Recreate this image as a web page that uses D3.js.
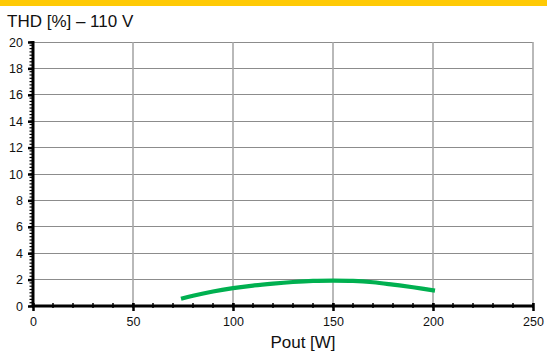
<!DOCTYPE html>
<html><head><meta charset="utf-8">
<script src="https://cdn.jsdelivr.net/npm/d3@7"></script>
<style>body{margin:0;background:#fff}svg{display:block}text{font-family:Arial,"Liberation Sans",sans-serif}</style>
</head><body>
<svg id="c" width="547" height="352"></svg>
<script>
const titleText = "THD [%] \u2013 110 V";
const xTitle = "Pout [W]";
const pout = [74, 80, 90, 100, 110, 120, 130, 140, 150, 160, 170, 180, 190, 201];
const thd  = [0.55, 0.78, 1.1, 1.35, 1.55, 1.7, 1.82, 1.9, 1.92, 1.9, 1.8, 1.62, 1.42, 1.17];
const xTicks = [0, 50, 100, 150, 200, 250];
const yTicks = [0, 2, 4, 6, 8, 10, 12, 14, 16, 18, 20];

const svg = d3.select("#c");
const x = d3.scaleLinear().domain([0, 250]).range([33, 533]);
const y = d3.scaleLinear().domain([0, 20]).range([306, 42]);

// top yellow bar
svg.append("rect").attr("x",0).attr("y",0).attr("width",547).attr("height",6).attr("fill","#FFCA05");

svg.append("text").attr("x",7).attr("y",27).attr("font-size",17).attr("fill","#111").text(titleText);

// gridlines
svg.append("g").selectAll("line").data(yTicks.filter(d=>d>0)).join("line")
  .attr("x1",x(0)).attr("x2",x(250)).attr("y1",d=>y(d)).attr("y2",d=>y(d))
  .attr("stroke","#8c8c8c").attr("stroke-width",1).attr("shape-rendering","crispEdges");
svg.append("g").selectAll("line").data(xTicks.filter(d=>d>0)).join("line")
  .attr("x1",d=>x(d)).attr("x2",d=>x(d)).attr("y1",y(0)).attr("y2",y(20))
  .attr("stroke","#a8a8a8").attr("stroke-width",1.6);

// minor ticks
const yMinor = d3.range(0, 20.001, 0.25);
svg.append("g").selectAll("line").data(yMinor).join("line")
  .attr("x1",x(0)-3.5).attr("x2",x(0)).attr("y1",d=>y(d)).attr("y2",d=>y(d))
  .attr("stroke","#000").attr("stroke-width",1.2);
const xMinor = d3.range(0, 250.001, 10);
svg.append("g").selectAll("line").data(xMinor).join("line")
  .attr("x1",d=>x(d)).attr("x2",d=>x(d)).attr("y1",y(0)-3).attr("y2",y(0)+2)
  .attr("stroke","#000").attr("stroke-width",1.5);

// axes
const yAxis = svg.append("g").attr("transform",`translate(${x(0)},0)`)
  .call(d3.axisLeft(y).tickValues(yTicks).tickSize(5).tickPadding(5).tickFormat(d3.format("d")));
yAxis.select(".domain").attr("stroke","#000").attr("stroke-width",3).attr("d",`M0,${y(20)-1}V${y(0)+1}`);
yAxis.selectAll(".tick line").attr("stroke","#000").attr("stroke-width",2.5);
yAxis.selectAll(".tick text").attr("font-size",12.5).attr("fill","#111").attr("font-family","Arial, 'Liberation Sans', sans-serif");

const xAxis = svg.append("g").attr("transform",`translate(0,${y(0)})`)
  .call(d3.axisBottom(x).tickValues(xTicks).tickSize(5).tickPadding(6).tickFormat(d3.format("d")));
xAxis.select(".domain").attr("stroke","#000").attr("stroke-width",3).attr("d",`M${x(0)-1},0H${x(250)+1}`);
xAxis.selectAll(".tick line").attr("stroke","#000").attr("stroke-width",2.5).attr("y1",-3);
xAxis.selectAll(".tick text").attr("font-size",12.5).attr("fill","#111").attr("font-family","Arial, 'Liberation Sans', sans-serif");

svg.append("text").attr("x",303).attr("y",348).attr("text-anchor","middle").attr("font-size",17).attr("fill","#111").text(xTitle);

// curve
const line = d3.line().x((d,i)=>x(pout[i])).y(d=>y(d)).curve(d3.curveCatmullRom.alpha(0.5));
svg.append("path").attr("d",line(thd)).attr("fill","none").attr("stroke","#00B050").attr("stroke-width",4.2);
</script>
</body></html>
